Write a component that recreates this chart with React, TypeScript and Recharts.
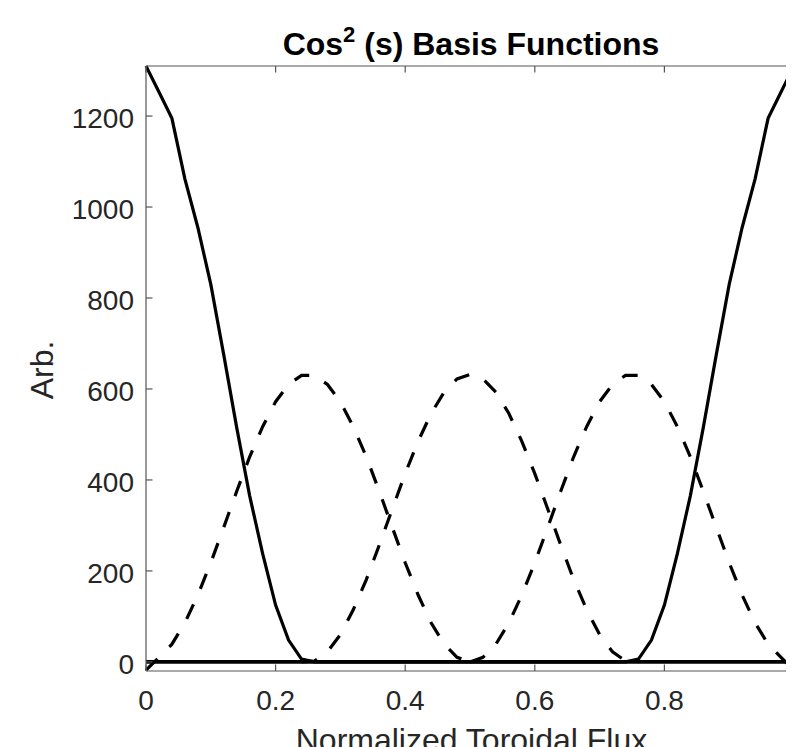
import { LineChart, Line, XAxis, YAxis } from "recharts";

// sample points along the normalized toroidal flux axis
const fluxGrid = [
  0, 0.02, 0.04, 0.06, 0.08, 0.1, 0.12, 0.14, 0.16, 0.18, 0.2, 0.22, 0.24,
  0.26, 0.28, 0.3, 0.32, 0.34, 0.36, 0.38, 0.4, 0.42, 0.44, 0.46, 0.48, 0.5,
  0.52, 0.54, 0.56, 0.58, 0.6, 0.62, 0.64, 0.66, 0.68, 0.7, 0.72, 0.74, 0.76,
  0.78, 0.8, 0.82, 0.84, 0.86, 0.88, 0.9, 0.92, 0.94, 0.96, 0.98, 1,
];

// solid edge basis (axis + boundary halves)
const edgeBasis = [
  1310, 1253, 1195, 1062, 955, 830, 675, 515, 365, 238, 125, 48, 6,
  0, 0, 0, 0, 0, 0, 0, 0, 0, 0, 0, 0, 0, 0, 0, 0, 0, 0, 0, 0, 0, 0, 0, 0, 0,
  6, 48, 125, 238, 365, 515, 675, 830, 955, 1062, 1195, 1253, 1310,
];

// dashed interior bumps
const bumpA = [
  -18, 10, 39, 86, 147, 218, 296, 375, 451, 517, 572, 610, 630,
  630, 610, 572, 517, 451, 375, 296, 218, 147, 86, 39, 10, 0,
  null, null, null, null, null, null, null, null, null, null, null, null, null,
  null, null, null, null, null, null, null, null, null, null, null, null,
];
const bumpB = [
  null, null, null, null, null, null, null, null, null, null, null, null, 0,
  2, 22, 60, 115, 181, 257, 336, 414, 485, 546, 593, 622, 632,
  622, 593, 546, 485, 414, 336, 257, 181, 115, 60, 22, 2, 0,
  null, null, null, null, null, null, null, null, null, null, null, null,
];
const bumpC = [
  null, null, null, null, null, null, null, null, null, null, null, null, null,
  null, null, null, null, null, null, null, null, null, null, null, null, 0,
  10, 39, 86, 147, 218, 296, 375, 451, 517, 572, 610, 630,
  630, 610, 572, 517, 451, 375, 296, 218, 147, 86, 39, 10, -18,
];
const zeroLine = fluxGrid.map(() => 0);

const xTicks = [0, 0.2, 0.4, 0.6, 0.8, 1];
const yTicks = [0, 200, 400, 600, 800, 1000, 1200];

const FONT = "'Liberation Sans', Arial, Helvetica, sans-serif";
const INK = "#262626";
const AXIS = "#555555";
const TICK = 6.5;

const rows = fluxGrid.map((x, i) => ({
  x,
  edge: edgeBasis[i],
  a: bumpA[i],
  b: bumpB[i],
  c: bumpC[i],
  zero: zeroLine[i],
}));

const BottomTick = ({ x, y, payload }: any) => (
  <g>
    <line x1={x} y1={y - 39} x2={x} y2={y - 39 - TICK} stroke={AXIS} strokeWidth={1.2} />
    <text x={x} y={y} textAnchor="middle" fontSize={28} fill={INK} fontFamily={FONT}>
      {String(payload.value)}
    </text>
  </g>
);

const LeftTick = ({ x, y, payload }: any) => (
  <g>
    <line x1={x + 12} y1={y} x2={x + 12 + TICK} y2={y} stroke={AXIS} strokeWidth={1.2} />
    <text x={x} y={y + 12} textAnchor="end" fontSize={28} fill={INK} fontFamily={FONT}>
      {String(payload.value)}
    </text>
  </g>
);

const TopTick = ({ x, y }: any) => (
  <line x1={x} y1={y} x2={x} y2={y + TICK} stroke={AXIS} strokeWidth={1.2} />
);

const RightTick = ({ x, y }: any) => (
  <line x1={x} y1={y} x2={x - TICK} y2={y} stroke={AXIS} strokeWidth={1.2} />
);

export default function App() {
  const axisLine = { stroke: AXIS, strokeWidth: 1.2 };
  return (
    <div style={{ position: "relative", width: 786, height: 739, overflow: "hidden", fontFamily: FONT }}>
      <LineChart width={860} height={800} data={rows} margin={{ top: 57, right: 73, left: 0, bottom: 77 }}>
        <XAxis xAxisId="b" dataKey="x" type="number" domain={[0, 1]} ticks={xTicks}
          tickSize={0} tickMargin={39} tickLine={false} axisLine={axisLine} tick={<BottomTick />} height={60} />
        <XAxis xAxisId="t" orientation="top" dataKey="x" type="number" domain={[0, 1]} ticks={xTicks}
          tickSize={0} tickMargin={0} tickLine={false} axisLine={axisLine} tick={<TopTick />} height={1} />
        <YAxis yAxisId="l" type="number" domain={[-20, 1310]} ticks={yTicks} width={138}
          tickSize={0} tickMargin={12} tickLine={false} axisLine={axisLine} tick={<LeftTick />} />
        <YAxis yAxisId="r" orientation="right" type="number" domain={[-20, 1310]} ticks={yTicks} width={1}
          tickSize={0} tickMargin={0} tickLine={false} axisLine={axisLine} tick={<RightTick />} />
        <Line xAxisId="b" yAxisId="l" type="linear" dataKey="zero" stroke="#000" strokeWidth={3.6}
          dot={false} activeDot={false} isAnimationActive={false} />
        <Line xAxisId="b" yAxisId="l" type="linear" dataKey="a" stroke="#000" strokeWidth={3.2}
          strokeDasharray="16 17" dot={false} activeDot={false} isAnimationActive={false} />
        <Line xAxisId="b" yAxisId="l" type="linear" dataKey="b" stroke="#000" strokeWidth={3.2}
          strokeDasharray="16 17" dot={false} activeDot={false} isAnimationActive={false} />
        <Line xAxisId="b" yAxisId="l" type="linear" dataKey="c" stroke="#000" strokeWidth={3.2}
          strokeDasharray="16 17" dot={false} activeDot={false} isAnimationActive={false} />
        <Line xAxisId="b" yAxisId="l" type="linear" dataKey="edge" stroke="#000" strokeWidth={3.2}
          dot={false} activeDot={false} isAnimationActive={false} />
      </LineChart>
      <svg width={786} height={739} style={{ position: "absolute", left: 0, top: 0, pointerEvents: "none" }}>
        <text x={463} y={47} textAnchor="middle" fontSize={32} fontWeight="bold" fill="#000" fontFamily={FONT}>
          Cos<tspan fontSize={22} dy={-13}>2</tspan>
          <tspan dy={13}> (s) Basis Functions</tspan>
        </text>
        <text x={45} y={362} transform="rotate(-90, 45, 362)" textAnchor="middle" fontSize={32} fill={INK} fontFamily={FONT}>
          Arb.
        </text>
        <text x={463.5} y={743} textAnchor="middle" fontSize={32} fill={INK} fontFamily={FONT}>
          Normalized Toroidal Flux
        </text>
      </svg>
    </div>
  );
}
